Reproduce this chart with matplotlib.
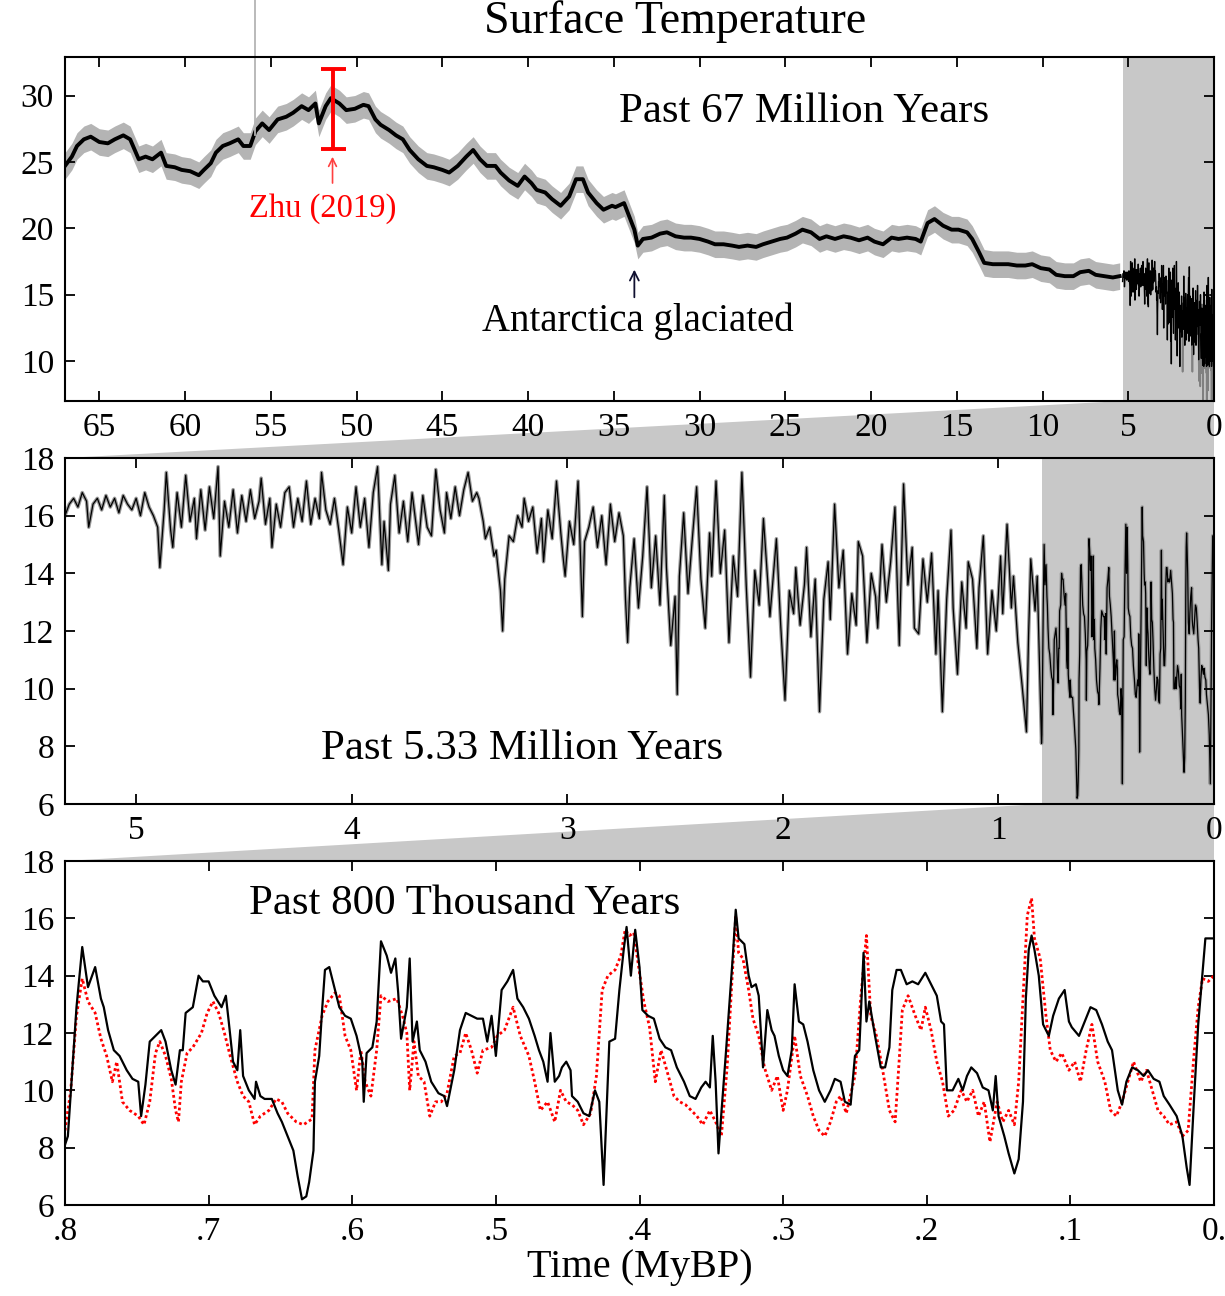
import matplotlib
matplotlib.use('Agg')
import matplotlib.pyplot as plt
import numpy as np
from matplotlib.patches import Polygon

plt.rcParams['font.family'] = ['Liberation Serif', 'DejaVu Serif']

# ---- past 67 My (67 -> 5.5 My)
t_67 = [67.0, 66.6, 66.3, 65.9, 65.5, 65.0, 64.5, 64.1, 63.6, 63.2, 62.7, 62.3, 61.9, 61.4,
        61.1, 60.6, 60.2, 59.7, 59.2, 58.9, 58.5, 58.2, 57.8, 57.4, 56.9, 56.6, 56.2, 55.9,
        55.5, 55.1, 54.6, 54.1, 53.7, 53.2, 52.8, 52.4, 52.2, 51.8, 51.5, 51.0, 50.6, 50.1,
        49.6, 49.3, 48.9, 48.6, 48.1, 47.7, 47.3, 46.9, 46.4, 45.9, 45.5, 45.0, 44.6, 44.1,
        43.6, 43.2, 42.8, 42.4, 41.9, 41.6, 41.1, 40.6, 40.2, 39.8, 39.5, 39.0, 38.6, 38.1,
        37.6, 37.2, 36.8, 36.5, 36.0, 35.6, 35.1, 34.9, 34.4, 34.1, 33.8, 33.6, 33.3, 32.8,
        32.3, 31.9, 31.4, 30.9, 30.5, 30.0, 29.5, 29.1, 28.6, 28.1, 27.7, 27.2, 26.7, 26.3,
        25.8, 25.3, 24.9, 24.4, 24.0, 23.5, 23.0, 22.6, 22.1, 21.6, 21.2, 20.7, 20.2, 19.8,
        19.3, 18.8, 18.4, 17.9, 17.4, 17.1, 16.7, 16.3, 15.8, 15.3, 14.9, 14.4, 14.1, 13.7,
        13.4, 12.9, 12.4, 12.0, 11.5, 11.0, 10.6, 10.1, 9.6, 9.2, 8.7, 8.2, 7.8, 7.3, 6.9,
        6.4, 5.9, 5.5]
v_67 = [24.7, 25.4, 26.2, 26.7, 26.9, 26.5, 26.4, 26.7, 27.0, 26.7, 25.2, 25.4, 25.2, 25.7,
        24.7, 24.6, 24.4, 24.3, 24.0, 24.4, 24.9, 25.7, 26.2, 26.4, 26.7, 26.2, 26.2, 27.3,
        27.9, 27.4, 28.2, 28.4, 28.7, 29.2, 28.9, 29.4, 27.9, 29.2, 29.8, 29.4, 28.9, 29.0,
        29.3, 29.2, 28.2, 27.8, 27.4, 27.0, 26.7, 25.9, 25.2, 24.7, 24.6, 24.4, 24.2, 24.7,
        25.4, 25.9, 25.2, 24.7, 24.7, 24.2, 23.6, 23.2, 23.9, 23.4, 22.9, 22.7, 22.2, 21.7,
        22.4, 23.7, 23.7, 22.7, 21.9, 21.4, 21.7, 21.6, 21.9, 20.9, 19.9, 18.7, 19.2, 19.3,
        19.6, 19.7, 19.4, 19.3, 19.3, 19.2, 19.0, 18.8, 18.8, 18.7, 18.6, 18.7, 18.6, 18.8,
        19.0, 19.2, 19.3, 19.6, 19.9, 19.7, 19.2, 19.4, 19.2, 19.4, 19.3, 19.1, 19.3, 19.0,
        18.8, 19.3, 19.2, 19.3, 19.2, 19.0, 20.4, 20.7, 20.2, 19.9, 19.9, 19.7, 19.2, 18.2,
        17.4, 17.3, 17.3, 17.3, 17.2, 17.2, 17.3, 17.0, 16.9, 16.5, 16.4, 16.4, 16.7, 16.8,
        16.5, 16.4, 16.3, 16.4]

petm_t = 55.9
petm_v = [27.0, 37.2]
zhu_t = 51.4
zhu_lo, zhu_hi = 26.0, 32.0

# ---- past 5.33 My down to 0.8 My (middle panel)
t_5 = [5.33, 5.31, 5.29, 5.27, 5.25, 5.23, 5.22, 5.20, 5.18, 5.16, 5.14, 5.12, 5.10, 5.08,
       5.06, 5.04, 5.02, 5.00, 4.98, 4.96, 4.94, 4.92, 4.90, 4.89, 4.87, 4.86, 4.84, 4.83,
       4.81, 4.79, 4.77, 4.75, 4.73, 4.72, 4.70, 4.68, 4.66, 4.64, 4.62, 4.61, 4.59, 4.57,
       4.55, 4.53, 4.51, 4.49, 4.47, 4.45, 4.43, 4.42, 4.40, 4.38, 4.37, 4.35, 4.33, 4.31,
       4.29, 4.27, 4.25, 4.23, 4.21, 4.19, 4.17, 4.15, 4.14, 4.12, 4.10, 4.08, 4.06, 4.04,
       4.02, 4.00, 3.98, 3.96, 3.94, 3.92, 3.90, 3.88, 3.86, 3.85, 3.83, 3.82, 3.80, 3.78,
       3.76, 3.74, 3.72, 3.71, 3.69, 3.67, 3.65, 3.63, 3.61, 3.59, 3.57, 3.56, 3.54, 3.52,
       3.50, 3.48, 3.46, 3.44, 3.42, 3.41, 3.39, 3.38, 3.36, 3.34, 3.33, 3.31, 3.30, 3.29,
       3.27, 3.25, 3.23, 3.21, 3.20, 3.18, 3.16, 3.14, 3.12, 3.11, 3.09, 3.07, 3.05, 3.03,
       3.02, 3.01, 2.99, 2.97, 2.95, 2.93, 2.92, 2.90, 2.88, 2.86, 2.84, 2.82, 2.80, 2.78,
       2.76, 2.74, 2.73, 2.72, 2.71, 2.69, 2.67, 2.65, 2.63, 2.61, 2.59, 2.57, 2.55, 2.54,
       2.52, 2.50, 2.49, 2.48, 2.46, 2.44, 2.42, 2.40, 2.38, 2.36, 2.34, 2.33, 2.31, 2.29,
       2.27, 2.25, 2.23, 2.21, 2.19, 2.17, 2.15, 2.13, 2.11, 2.09, 2.07, 2.06, 2.04, 2.03,
       2.01, 1.99, 1.97, 1.95, 1.94, 1.92, 1.90, 1.89, 1.87, 1.85, 1.83, 1.81, 1.79, 1.78,
       1.76, 1.74, 1.72, 1.70, 1.68, 1.66, 1.65, 1.63, 1.61, 1.59, 1.57, 1.56, 1.54, 1.52,
       1.50, 1.48, 1.47, 1.46, 1.44, 1.42, 1.40, 1.39, 1.37, 1.35, 1.33, 1.31, 1.29, 1.28,
       1.26, 1.24, 1.22, 1.21, 1.19, 1.17, 1.15, 1.14, 1.12, 1.10, 1.09, 1.07, 1.05, 1.03,
       1.01, 0.99, 0.98, 0.96, 0.94, 0.93, 0.91, 0.89, 0.87, 0.86, 0.85, 0.83, 0.82]
v_5 = [16.0, 16.4, 16.6, 16.3, 16.8, 16.5, 15.6, 16.4, 16.6, 16.2, 16.7, 16.3, 16.6, 16.1,
       16.7, 16.4, 16.2, 16.6, 16.0, 16.8, 16.3, 16.0, 15.6, 14.2, 16.2, 17.5, 15.5, 14.9,
       16.8, 15.6, 17.4, 15.8, 16.6, 15.2, 16.9, 15.5, 17.0, 15.9, 17.7, 14.6, 16.5, 15.6,
       16.9, 15.4, 16.7, 15.8, 16.9, 15.9, 16.5, 17.3, 15.7, 16.6, 14.9, 16.4, 15.6, 16.8,
       17.0, 15.6, 16.6, 15.8, 17.2, 15.7, 16.6, 15.9, 17.5, 16.2, 15.7, 16.6, 15.5, 14.3,
       16.3, 15.4, 17.0, 15.6, 16.6, 14.9, 16.8, 17.7, 14.3, 15.8, 14.1, 16.4, 17.4, 15.4,
       16.5, 15.1, 16.8, 16.2, 15.0, 16.7, 15.6, 15.3, 17.6, 16.2, 15.4, 16.8, 15.9, 17.0,
       16.0, 16.9, 17.5, 16.5, 16.8, 16.6, 15.8, 15.2, 15.6, 14.6, 14.8, 13.4, 12.0, 13.8,
       15.3, 15.1, 16.0, 15.6, 16.6, 15.8, 16.3, 14.7, 15.9, 14.4, 16.2, 15.2, 17.2, 15.4,
       14.6, 13.9, 15.8, 15.0, 17.2, 12.5, 15.1, 15.6, 16.3, 14.9, 16.0, 14.3, 16.4, 15.1,
       16.1, 15.3, 13.1, 11.6, 13.5, 15.2, 12.8, 14.6, 17.0, 13.5, 15.3, 12.9, 16.7, 14.2,
       11.5, 13.2, 9.8, 13.9, 16.1, 13.3, 15.2, 17.0, 13.8, 12.1, 15.4, 13.9, 17.2, 14.0,
       15.5, 11.6, 14.6, 13.2, 17.5, 13.6, 10.4, 14.1, 12.9, 15.9, 13.7, 12.5, 14.3, 15.2,
       12.2, 9.6, 13.4, 12.6, 14.2, 12.2, 13.6, 14.9, 11.8, 13.8, 9.2, 13.1, 14.4, 12.4,
       16.4, 13.5, 14.8, 11.2, 13.3, 12.2, 15.1, 14.6, 11.6, 14.0, 13.2, 12.1, 15.0, 13.0,
       14.4, 16.3, 13.8, 11.5, 17.1, 13.6, 14.9, 12.1, 11.9, 14.5, 13.0, 14.7, 11.2, 13.4,
       9.2, 13.1, 15.5, 12.8, 10.5, 13.7, 12.1, 14.4, 13.8, 11.4, 13.5, 15.3, 11.2, 13.4,
       12.0, 14.6, 12.6, 15.7, 12.8, 13.9, 11.6, 10.1, 8.5, 11.9, 14.5, 12.7, 13.9]

# ---- past 800 ky (bottom panel), black solid
t_800 = [.800, .798, .792, .788, .784, .779, .775, .773, .770, .766, .762, .757, .753, .749,
         .747, .744, .741, .737, .733, .730, .726, .723, .720, .718, .716, .711, .707, .704,
         .700, .696, .691, .688, .686, .683, .680, .678, .676, .672, .668, .667, .664, .661,
         .656, .652, .649, .645, .641, .638, .635, .632, .630, .627, .626, .623, .621, .619,
         .616, .612, .609, .605, .601, .597, .593, .592, .590, .586, .583, .580, .576, .573,
         .570, .568, .566, .562, .560, .558, .555, .553, .549, .545, .540, .536, .534, .529,
         .525, .521, .517, .513, .509, .506, .503, .500, .496, .492, .488, .485, .481, .477,
         .473, .470, .467, .464, .462, .459, .456, .454, .451, .448, .447, .443, .439, .435,
         .431, .428, .425, .421, .417, .414, .411, .409, .406, .403, .400, .398, .394, .390,
         .386, .382, .378, .374, .369, .365, .361, .357, .354, .351, .349, .347, .345, .343,
         .340, .338, .335, .333, .331, .327, .324, .322, .319, .317, .314, .311, .308, .306,
         .303, .300, .297, .294, .292, .289, .286, .283, .279, .275, .271, .267, .264, .260,
         .257, .253, .250, .247, .244, .242, .240, .236, .232, .229, .226, .224, .221, .218,
         .214, .210, .206, .201, .197, .193, .190, .188, .186, .182, .178, .175, .172, .169,
         .165, .161, .157, .154, .152, .150, .146, .143, .139, .136, .133, .131, .129, .127,
         .125, .122, .119, .115, .112, .108, .104, .101, .099, .094, .090, .086, .082, .078,
         .074, .071, .067, .064, .061, .057, .053, .049, .046, .042, .038, .035, .031, .026,
         .022, .019, .017, .014, .011, .008, .006, .000]
v_800 = [8.1, 8.4, 12.9, 15.0, 13.6, 14.3, 13.2, 12.9, 12.1, 11.4, 11.2, 10.7, 10.4, 10.3,
         9.1, 10.2, 11.7, 11.9, 12.1, 11.7, 10.7, 10.2, 11.4, 11.4, 12.7, 12.9, 14.0, 13.8,
         13.8, 13.3, 12.9, 13.3, 12.4, 11.0, 10.7, 12.1, 10.5, 10.0, 9.7, 10.3, 9.8, 9.7,
         9.7, 9.2, 8.9, 8.4, 7.9, 7.0, 6.2, 6.3, 6.8, 7.9, 10.3, 11.2, 12.8, 14.2,
         14.3, 13.5, 12.9, 12.6, 12.5, 11.9, 11.0, 9.6, 11.3, 11.5, 12.4, 15.2, 14.7, 14.1,
         14.6, 13.4, 11.8, 12.9, 14.6, 11.7, 12.4, 11.4, 11.0, 10.3, 9.9, 9.8, 9.45, 10.7,
         12.1, 12.7, 12.6, 12.5, 12.5, 11.7, 12.6, 11.2, 13.5, 13.8, 14.2, 13.2, 12.9, 12.5,
         11.9, 11.4, 11.0, 10.3, 12.0, 10.3, 10.5, 10.8, 11.0, 10.7, 9.8, 9.6, 9.2, 9.1,
         10.0, 9.6, 6.7, 11.7, 11.8, 13.5, 14.9, 15.7, 14.0, 15.6, 14.3, 12.8, 12.6, 12.5,
         11.8, 11.5, 11.4, 10.8, 10.3, 9.8, 9.7, 10.1, 10.3, 10.1, 11.9, 10.3, 7.8, 9.2,
         11.2, 12.6, 14.7, 16.3, 15.3, 15.1, 14.0, 13.6, 13.7, 13.3, 10.8, 12.8, 12.1, 11.9,
         11.2, 10.7, 10.5, 11.4, 13.7, 12.4, 12.3, 11.7, 10.7, 10.0, 9.6, 10.0, 10.4, 10.3,
         9.6, 9.5, 11.2, 11.4, 14.8, 12.4, 13.1, 11.9, 10.8, 10.8, 11.5, 13.5, 14.2, 14.2,
         13.7, 13.8, 13.7, 14.1, 13.7, 13.3, 12.4, 12.3, 10.0, 10.0, 10.4, 10.0, 10.5, 10.8,
         10.6, 10.1, 10.0, 9.3, 10.5, 9.1, 8.4, 7.8, 7.1, 7.6, 9.6, 13.2, 14.9, 15.4,
         14.9, 14.0, 12.3, 11.9, 12.6, 13.2, 13.5, 12.4, 12.2, 11.9, 12.4, 12.9, 12.8, 12.3,
         11.7, 11.4, 10.0, 9.5, 10.3, 10.8, 10.7, 10.5, 10.7, 10.4, 10.3, 9.8, 9.5, 9.1,
         8.4, 7.3, 6.7, 9.6, 12.3, 14.1, 15.3, 15.3]

# ---- past 800 ky, red dotted
t_red = [.800, .796, .792, .788, .784, .779, .775, .771, .767, .764, .760, .755, .749, .745,
         .741, .737, .734, .730, .726, .723, .721, .719, .715, .711, .705, .701, .697, .693,
         .689, .685, .680, .676, .672, .668, .664, .658, .653, .649, .645, .639, .634, .628,
         .626, .621, .617, .612, .609, .605, .601, .597, .594, .591, .587, .583, .580, .575,
         .569, .565, .562, .560, .557, .554, .550, .546, .542, .538, .534, .529, .525, .521,
         .517, .513, .509, .503, .499, .494, .488, .483, .477, .473, .469, .464, .459, .455,
         .451, .447, .443, .439, .434, .430, .426, .422, .417, .413, .410, .407, .404, .400,
         .397, .393, .389, .385, .381, .376, .372, .368, .364, .360, .356, .351, .347, .343,
         .339, .336, .333, .331, .328, .324, .321, .317, .313, .308, .304, .300, .297, .292,
         .288, .283, .279, .275, .271, .267, .263, .260, .256, .250, .246, .242, .239, .235,
         .231, .226, .222, .219, .217, .213, .208, .204, .201, .197, .193, .189, .185, .181,
         .176, .172, .168, .164, .160, .156, .151, .147, .143, .139, .136, .133, .130, .127,
         .125, .121, .117, .114, .110, .106, .101, .097, .093, .089, .085, .081, .076, .072,
         .068, .064, .060, .056, .051, .047, .043, .039, .035, .031, .026, .022, .018, .014,
         .011, .008, .004, .000]
v_red = [8.6, 10.0, 12.6, 13.9, 13.1, 12.7, 11.8, 11.2, 10.3, 11.0, 9.6, 9.3, 9.1, 8.8,
         9.6, 11.3, 11.7, 11.2, 10.4, 9.3, 8.9, 10.3, 11.3, 11.5, 12.0, 12.7, 13.1, 12.7,
         12.0, 11.2, 10.3, 9.8, 9.6, 8.8, 9.1, 9.3, 9.7, 9.6, 9.2, 8.9, 8.8, 9.0,
         11.4, 12.6, 13.1, 13.4, 13.3, 11.9, 11.4, 10.0, 11.4, 10.3, 9.8, 11.4, 13.3, 13.1,
         13.2, 12.6, 12.0, 10.0, 11.7, 10.5, 10.3, 9.1, 9.6, 9.6, 9.9, 11.2, 11.3, 12.0,
         11.4, 10.6, 11.4, 11.5, 11.9, 12.1, 12.9, 11.9, 11.2, 10.3, 9.3, 9.6, 8.9, 10.0,
         9.6, 9.5, 9.3, 8.8, 9.2, 10.5, 13.5, 14.0, 14.2, 14.7, 15.6, 15.4, 15.5, 14.1,
         13.1, 12.2, 10.3, 11.4, 10.7, 9.8, 9.6, 9.5, 9.3, 9.1, 8.8, 9.3, 8.9, 8.4,
         10.8, 13.5, 16.1, 14.8, 14.6, 13.5, 12.5, 11.9, 10.8, 10.0, 10.5, 9.3, 10.0, 11.9,
         10.5, 9.8, 9.1, 8.6, 8.4, 8.9, 9.6, 9.8, 9.2, 10.5, 13.2, 15.4, 12.6, 11.9,
         10.8, 9.3, 8.9, 11.2, 12.8, 13.3, 12.6, 12.1, 12.9, 12.1, 11.0, 10.3, 9.1, 9.3,
         10.0, 9.6, 10.0, 9.1, 9.6, 8.2, 9.6, 8.9, 9.3, 8.8, 10.3, 13.2, 16.1, 16.7,
         15.3, 14.6, 12.6, 11.4, 11.0, 11.3, 10.7, 11.0, 10.3, 11.4, 12.3, 11.0, 10.3, 9.3,
         9.1, 9.6, 10.3, 11.0, 10.3, 10.7, 10.0, 9.3, 9.1, 8.8, 8.9, 8.4, 8.6, 11.2,
         12.9, 13.9, 13.8, 14.0]

SHADE = '#c8c8c8'

fig = plt.figure(figsize=(12.25, 12.96), dpi=100)
ax1 = fig.add_axes([65/1225, 1 - 401/1296, 1149/1225, 344/1296])
ax2 = fig.add_axes([65/1225, 1 - 804/1296, 1149/1225, 346/1296])
ax3 = fig.add_axes([65/1225, 1 - 1205/1296, 1149/1225, 344/1296])

# the middle record continues with the 800 ky curve
t_mid = np.array(t_5 + t_800)
v_mid = np.array(v_5 + v_800)

# top panel
t67 = np.array(t_67)
v67 = np.array(v_67)
ax1.axvspan(5.33, 0, color=SHADE, lw=0, zorder=0)
ax1.fill_between(t67, v67 - 1.0, v67 + 1.0, color='#b4b4b4', lw=0, zorder=1)
ax1.plot(t67, v67, color='black', lw=2.8, zorder=2)
ax1.plot(t_mid, v_mid, color='#808080', lw=1.2, zorder=2)
ax1.plot(t_mid[v_mid > 9.5], v_mid[v_mid > 9.5], color='black', lw=0.8, zorder=2)
ax1.plot([petm_t, petm_t], petm_v, color='#b4b4b4', lw=1.3, clip_on=False, zorder=2)
ax1.errorbar([zhu_t], [(zhu_lo + zhu_hi) / 2], yerr=[(zhu_hi - zhu_lo) / 2], color='red',
             lw=2.8, capsize=9, capthick=2.8, zorder=4)
ax1.annotate('', xy=(zhu_t, 25.6), xytext=(zhu_t, 23.2),
             arrowprops=dict(arrowstyle='->', color='#ff4040', lw=1.2, mutation_scale=14))
ax1.text(52.0, 21.5, 'Zhu (2019)', color='red', fontsize=23.5, ha='center', va='center')
ax1.annotate('', xy=(33.8, 17.1), xytext=(33.8, 14.6),
             arrowprops=dict(arrowstyle='->', color='#101030', lw=1.3, mutation_scale=16))
ax1.text(33.6, 13.0, 'Antarctica glaciated', fontsize=28, ha='center', va='center')
ax1.text(23.9, 28.8, 'Past 67 Million Years', fontsize=31, ha='center', va='center')
ax1.set_xlim(67, 0)
ax1.set_ylim(7, 32.9)
ax1.set_xticks(np.arange(65, -1, -5))
ax1.set_yticks([10, 15, 20, 25, 30])

# middle panel
ax2.axvspan(0.8, 0, color=SHADE, lw=0, zorder=0)
ax2.plot(t_mid, v_mid, color='#9a9a9a', lw=2.6, zorder=1)
ax2.plot(t_mid, v_mid, color='black', lw=0.9, zorder=2)
ax2.text(3.21, 7.9, 'Past 5.33 Million Years', fontsize=31, ha='center', va='center')
ax2.set_xlim(5.33, 0)
ax2.set_ylim(6, 18)
ax2.set_xticks([5, 4, 3, 2, 1, 0])
ax2.set_yticks(np.arange(6, 19, 2))

# bottom panel
ax3.plot(t_red, v_red, color='red', lw=2.0, ls=(0, (1, 1.0)), zorder=2)
ax3.plot(t_800, v_800, color='black', lw=1.6, zorder=3)
ax3.text(0.522, 16.5, 'Past 800 Thousand Years', fontsize=31, ha='center', va='center')
ax3.set_xlim(0.8, 0)
ax3.set_ylim(6, 18)
ax3.set_xticks([.8, .7, .6, .5, .4, .3, .2, .1, 0])
ax3.set_xticklabels(['.8', '.7', '.6', '.5', '.4', '.3', '.2', '.1', '0.'])
ax3.set_yticks(np.arange(6, 19, 2))
ax3.set_xlabel('Time (MyBP)', fontsize=29, labelpad=2)

for ax in (ax1, ax2, ax3):
    ax.tick_params(direction='in', top=True, right=True, length=7, width=1.3,
                   labelsize=24, pad=8)
    for s in ax.spines.values():
        s.set_linewidth(1.5)

# grey wedges linking each shaded strip to the panel below
inv = fig.transFigure.inverted()


def fxy(ax, x, y):
    return inv.transform(ax.transData.transform((x, y)))


for upper, lower, x0, x1, ylo, yhi in [(ax1, ax2, 5.33, 0, 7, 18), (ax2, ax3, 0.8, 0, 6, 18)]:
    pts = [fxy(upper, x0, ylo), fxy(upper, x1, ylo),
           fxy(lower, lower.get_xlim()[1], yhi), fxy(lower, lower.get_xlim()[0], yhi)]
    fig.add_artist(Polygon(pts, closed=True, color=SHADE, lw=0, zorder=-1))

fig.text(675/1225, 1 - 22/1296, 'Surface Temperature', fontsize=33, ha='center', va='center')

fig.savefig('out.png', dpi=100)
